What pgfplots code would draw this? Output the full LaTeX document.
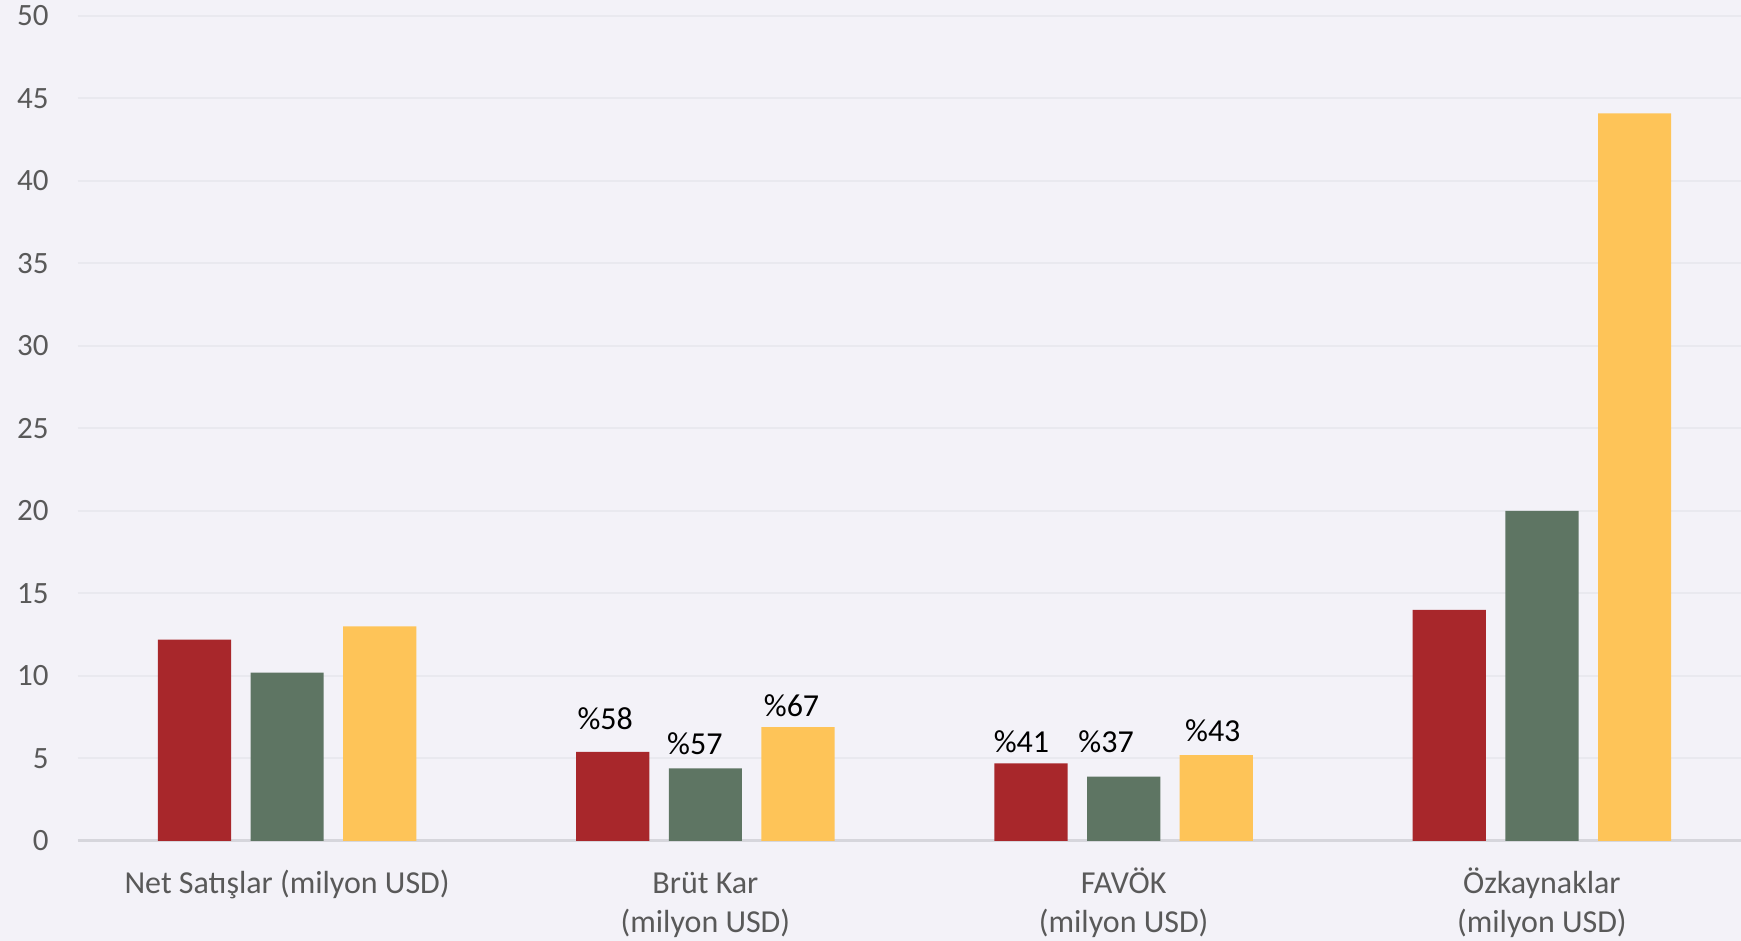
\documentclass[border=0pt]{standalone}
\usepackage{pgfplots}
\pgfplotsset{compat=1.18}
\usepackage{pgfplotstable}
\usepackage{fontspec}
\setmainfont{Carlito}
\definecolor{bg}{HTML}{F3F2F8}
\definecolor{gridc}{HTML}{E9E9EF}
\definecolor{axisc}{HTML}{D6D6DC}
\definecolor{lbl}{HTML}{595959}
\definecolor{cred}{HTML}{A8272B}
\definecolor{cgreen}{HTML}{5E7563}
\definecolor{cyellow}{HTML}{FEC458}

% unlabelled bars (Net Satislar, Ozkaynaklar)
\pgfplotstableread{
x y
-0.2216 12.2
2.7784 14.0
}\redA
\pgfplotstableread{
x y
0 10.2
3 20.0
}\greenA
\pgfplotstableread{
x y
0.2216 13.0
3.2216 44.1
}\yellowA
% labelled bars (Brut Kar, FAVOK)
\pgfplotstableread{
x y lab dx dy
0.7784 5.4 58 0.5 11
1.7784 4.7 41 -0.5 5.5
}\redB
\pgfplotstableread{
x y lab dx dy
1 4.4 57 -1 6.7
2 3.9 37 -4.5 12
}\greenB
\pgfplotstableread{
x y lab dx dy
1.2216 6.9 67 1 5.5
2.2216 5.2 43 2.5 7
}\yellowB

\pgfplotsset{
  mybar/.style={ybar, bar width=0.175, bar shift=0pt, draw=none, fill=#1},
  mylab/.style={point meta=explicit symbolic,
    nodes near coords={\%\pgfplotspointmeta},
    visualization depends on={\thisrow{dx} \as \dx},
    visualization depends on={\thisrow{dy} \as \dy},
    every node near coord/.append style={anchor=base west, inner sep=0pt,
      text=black, font=\fontsize{16}{18}\selectfont,
      xshift={\dx pt - 18.3pt}, yshift={\dy pt}}},
}

\begin{document}
\begin{tikzpicture}
\path[fill=bg, use as bounding box] (-39pt,-50pt) rectangle (831.5pt,420.5pt);
\begin{axis}[
  at={(0,0)}, anchor=south west,
  scale only axis, width=831.5pt, height=412.5pt,
  xmin=-0.5, xmax=3.476, ymin=0, ymax=50,
  ytick={0,5,...,50},
  xtick={0,1,2,3},
  xticklabels={\strut Net Satışlar (milyon USD), {\strut Brüt Kar\\(milyon USD)}, {\strut FAVÖK\\(milyon USD)}, {\strut Özkaynaklar\\(milyon USD)}},
  ymajorgrids, grid style={draw=gridc, line width=1pt},
  axis x line*=bottom, axis y line*=left,
  y axis line style={draw=none},
  x axis line style={draw=axisc, line width=1.5pt, -},
  major tick length=0pt, tick style={draw=none},
  /pgf/number format/assume math mode=true,
  yticklabel style={font=\fontsize{15.5}{18}\selectfont, text=lbl, anchor=east, inner sep=0pt, xshift=-14.5pt},
  xticklabel style={font=\fontsize{16}{19.5}\selectfont, text=lbl, align=center, anchor=north, inner sep=0pt, yshift=-12.45pt},
  clip=false,
]
\addplot[mybar=cred] table[x=x,y=y]{\redA};
\addplot[mybar=cgreen] table[x=x,y=y]{\greenA};
\addplot[mybar=cyellow] table[x=x,y=y]{\yellowA};
\addplot[mybar=cred, mylab] table[x=x,y=y,meta=lab]{\redB};
\addplot[mybar=cgreen, mylab] table[x=x,y=y,meta=lab]{\greenB};
\addplot[mybar=cyellow, mylab] table[x=x,y=y,meta=lab]{\yellowB};
\end{axis}
\end{tikzpicture}
\end{document}
